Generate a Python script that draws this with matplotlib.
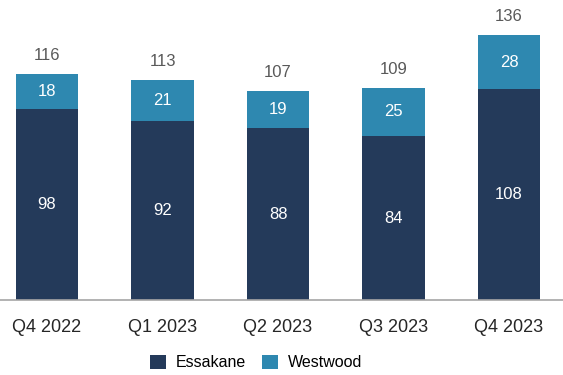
import matplotlib.pyplot as plt

plt.rcParams['font.family'] = ['Liberation Sans', 'DejaVu Sans']

quarters = ['Q4 2022', 'Q1 2023', 'Q2 2023', 'Q3 2023', 'Q4 2023']
essakane = [98, 92, 88, 84, 108]
westwood = [18, 21, 19, 25, 28]
totals = [116, 113, 107, 109, 136]

c_ess = '#243a5a'
c_west = '#2e88b0'

fig = plt.figure(figsize=(5.63, 3.75), dpi=100)
ax = fig.add_axes([0, 0.2, 1, 0.8])

x = list(range(len(quarters)))
w = 0.54
ax.bar(x, essakane, w, color=c_ess, label='Essakane')
ax.bar(x, westwood, w, bottom=essakane, color=c_west, label='Westwood')

for i in x:
    ax.text(i, essakane[i] / 2, str(essakane[i]), ha='center', va='center',
            color='white', fontsize=12)
    ax.text(i, essakane[i] + westwood[i] / 2, str(westwood[i]), ha='center',
            va='center', color='white', fontsize=12)
    ax.text(i, totals[i] + 9.5, str(totals[i]), ha='center', va='center',
            color='#595959', fontsize=12)

ax.set_xlim(-0.407, 4.467)
ax.set_ylim(0, 153.9)
for s in ['top', 'right', 'left']:
    ax.spines[s].set_visible(False)
ax.spines['bottom'].set_color('#a6a6a6')
ax.spines['bottom'].set_linewidth(1.2)
ax.set_yticks([])
ax.set_xticks(x)
ax.set_xticklabels(quarters, fontsize=13, color='#262626')
ax.tick_params(axis='x', length=0, pad=14)

fig.legend(loc='center', bbox_to_anchor=(0.455, 0.033), ncol=2, frameon=False,
           fontsize=11.5, handlelength=1.0, handleheight=1.0,
           columnspacing=1.0, handletextpad=0.6)

fig.savefig('out.png')
